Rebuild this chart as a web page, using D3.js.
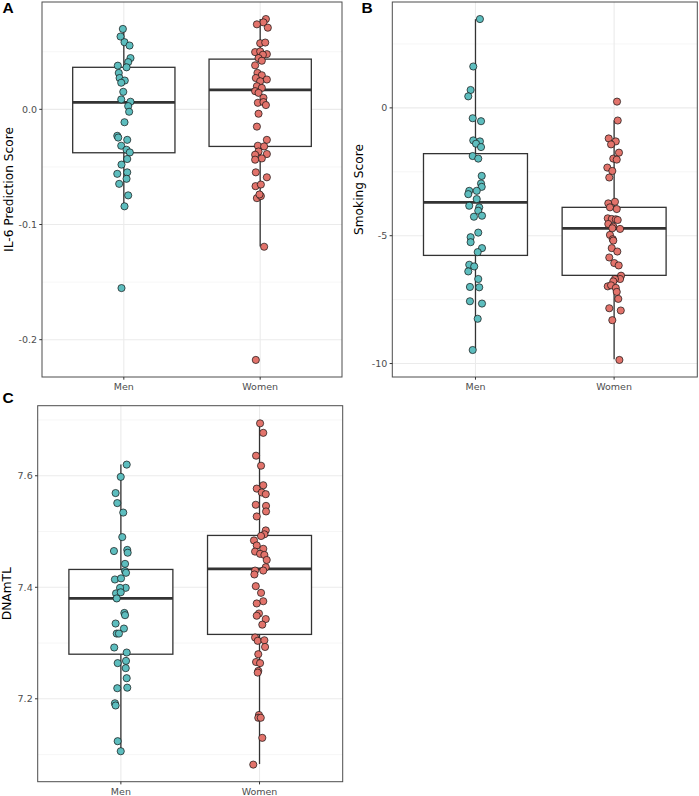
<!DOCTYPE html>
<html>
<head>
<meta charset="utf-8">
<script src="https://cdn.jsdelivr.net/npm/d3@7"></script>
<style>
  html, body { margin: 0; padding: 0; background: #fff; }
  svg { display: block; }
</style>
</head>
<body>
<svg id="chart" width="699" height="796"></svg>
<script>
// ---------------- DATA ----------------
const categories = ["Men", "Women"];

// Panel A: IL-6 Prediction Score
const il6Men = [0.0698,0.0632,0.0583,0.0554,0.0445,0.0410,0.0379,0.0365,0.0316,0.0272,0.0250,0.0231,0.0152,0.0086,0.0066,0.0028,-0.0021,-0.0112,-0.0230,-0.0245,-0.0265,-0.0316,-0.0351,-0.0374,-0.0431,-0.0480,-0.0547,-0.0560,-0.0603,-0.0647,-0.0747,-0.0842,-0.1552];
const il6MenJitter = [-0.007,-0.024,0.005,0.042,0.049,0.032,-0.044,0.020,-0.037,-0.031,0.007,-0.019,-0.004,-0.019,0.049,0.032,0.039,0.005,-0.048,-0.041,0.025,-0.019,0.020,0.044,0.025,-0.017,0.025,-0.048,0.020,-0.034,0.032,0.005,-0.017];
const il6Women = [0.0784,0.0755,0.0738,0.0709,0.0574,0.0580,0.0497,0.0503,0.0479,0.0474,0.0445,0.0422,0.0382,0.0316,0.0296,0.0272,0.0259,0.0244,0.0201,0.0186,0.0158,0.0143,0.0100,0.0057,0.0063,0.0037,-0.0038,-0.0150,-0.0265,-0.0316,-0.0322,-0.0366,-0.0388,-0.0394,-0.0426,-0.0437,-0.0547,-0.0590,-0.0667,-0.0653,-0.0771,-0.0753,-0.0739,-0.1193,-0.2176];
const il6WomenJitter = [0.042,0.024,-0.024,0.056,0,0.037,-0.037,0,0.049,0.020,-0.012,0.012,-0.037,-0.020,0.012,-0.032,0.049,0,-0.024,0.012,-0.037,-0.012,0.024,-0.017,0.024,0.042,-0.012,-0.024,0.049,-0.017,0.029,-0.012,0.049,-0.037,0.012,-0.037,-0.032,0.049,-0.034,0.005,-0.024,0.005,-0.005,0.029,-0.032];
// box stats: [lower whisker, q1, median, q3, upper whisker]
const il6BoxMen = [-0.0842,-0.0377,0.0060,0.0365,0.0698];
const il6BoxWomen = [-0.1190,-0.0322,0.0169,0.0436,0.0784];
const il6Ticks = [-0.2,-0.1,0.0];
const il6Minor = [-0.15,-0.05,0.05];

// Panel B: Smoking Score
const smokMen = [3.475,1.619,0.700,0.451,-0.405,-0.521,-1.272,-1.311,-1.401,-1.533,-1.883,-1.984,-2.661,-2.957,-3.089,-3.245,-3.245,-3.374,-3.568,-3.829,-3.891,-4.023,-4.218,-4.257,-4.879,-5.058,-5.253,-5.486,-5.642,-6.136,-6.202,-6.397,-6.693,-7.004,-7.019,-7.564,-7.654,-8.249,-9.471];
const smokMenJitter = [0.032,-0.016,-0.035,-0.052,-0.020,0.040,-0.016,0.032,0.004,0.040,-0.020,0.020,0.045,0.040,0.045,-0.045,0.009,-0.052,0.009,-0.045,0.027,0.020,0.047,-0.011,0.020,-0.035,-0.035,0.047,0.016,-0.045,-0.009,-0.052,0.020,-0.040,0.027,-0.040,0.047,0.016,-0.020];
const smokWomen = [0.245,-0.494,-1.195,-1.311,-1.428,-1.751,-1.984,-2.023,-2.335,-2.467,-2.724,-3.735,-3.673,-3.891,-3.957,-4.319,-4.346,-4.358,-4.385,-4.541,-4.646,-4.708,-4.735,-4.969,-5.136,-5.191,-5.486,-5.619,-5.852,-6.070,-6.163,-6.564,-6.693,-6.693,-6.786,-6.981,-6.942,-7.043,-7.198,-7.471,-7.837,-7.926,-8.304,-9.860];
const smokWomenJitter = [0.021,0.026,-0.039,0.012,-0.022,0.035,-0.006,0.019,-0.049,-0.013,-0.035,-0.042,0.006,-0.030,0.019,-0.046,-0.017,0.012,0.026,-0.042,-0.006,-0.013,0.043,-0.030,-0.010,-0.006,-0.017,0.023,-0.035,0.001,0.033,0.050,0.043,0.006,-0.006,-0.046,-0.022,0.012,0.019,0.030,-0.035,0.048,-0.013,0.038];
const smokBoxMen = [-9.47,-5.77,-3.70,-1.79,3.47];
const smokBoxWomen = [-9.83,-6.55,-4.71,-3.89,-0.49];
const smokTicks = [-10,-5,0];
const smokMinor = [-7.5,-2.5,2.5];

// Panel C: DNAmTL
const tlMen = [7.620,7.598,7.569,7.551,7.534,7.490,7.465,7.467,7.462,7.442,7.429,7.426,7.414,7.416,7.399,7.399,7.389,7.391,7.380,7.354,7.350,7.335,7.326,7.317,7.317,7.292,7.283,7.268,7.264,7.255,7.237,7.219,7.220,7.192,7.188,7.124,7.106];
const tlMenJitter = [0.042,-0.001,-0.038,-0.026,0.017,0.010,-0.050,0.046,0.049,0.030,0.030,0.037,-0.043,0.001,0.035,-0.006,-0.035,-0.001,-0.030,0.025,0.030,-0.038,0.022,-0.030,-0.014,-0.048,0.042,0.037,-0.023,0.035,0.042,-0.026,0.046,-0.043,-0.038,-0.023,-0.001];
const tlWomen = [7.694,7.677,7.636,7.618,7.583,7.577,7.570,7.567,7.548,7.546,7.527,7.536,7.502,7.495,7.492,7.484,7.475,7.469,7.464,7.460,7.458,7.449,7.436,7.430,7.430,7.423,7.402,7.390,7.375,7.371,7.353,7.349,7.343,7.333,7.310,7.304,7.305,7.293,7.280,7.266,7.264,7.250,7.247,7.171,7.166,7.166,7.130,7.082];
const tlWomenJitter = [0.004,0.027,-0.025,0.011,0.027,-0.020,0.016,0.045,-0.027,0.047,-0.020,0.047,0.045,0.035,0.011,-0.040,-0.020,0.027,-0.032,0.004,0.035,0.052,0.045,0.027,-0.032,-0.037,-0.027,0.011,0.027,-0.020,-0.004,-0.020,0.045,0.020,-0.032,-0.013,0.035,0.040,-0.009,-0.025,0.004,-0.009,-0.013,-0.004,-0.009,0.009,0.020,-0.045];
const tlBoxMen = [7.106,7.280,7.380,7.432,7.620];
const tlBoxWomen = [7.083,7.3155,7.433,7.493,7.695];
const tlTicks = [7.2,7.4,7.6];
const tlMinor = [7.1,7.3,7.5,7.7];

const colors = { Men: "#5DBDBE", Women: "#E2736B" };

// ---------------- DRAW ----------------
const svg = d3.select("#chart");
svg.append("rect").attr("width", 699).attr("height", 796).attr("fill", "#fff");

function drawPanel(cfg) {
  const { left, right, top, bottom } = cfg.box;
  const g = svg.append("g");

  // y domain: data range with 5% expansion (ggplot default)
  const all = cfg.series.flatMap(s => s.values.concat(s.box));
  const lo = d3.min(all), hi = d3.max(all);
  const pad = (hi - lo) * 0.05;
  const y = d3.scaleLinear().domain([lo - pad, hi + pad]).range([bottom, top]);
  const x = d3.scalePoint().domain(categories).range([left, right]).padding(0.6);
  const step = x.step();

  // grid
  g.selectAll(".minor").data(cfg.minor).join("line")
    .attr("x1", left).attr("x2", right)
    .attr("y1", d => y(d)).attr("y2", d => y(d))
    .attr("stroke", "#F0F0F0").attr("stroke-width", 0.6);
  g.selectAll(".major").data(cfg.ticks).join("line")
    .attr("x1", left).attr("x2", right)
    .attr("y1", d => y(d)).attr("y2", d => y(d))
    .attr("stroke", "#EBEBEB").attr("stroke-width", 1.1);
  g.selectAll(".xmajor").data(categories).join("line")
    .attr("x1", d => x(d)).attr("x2", d => x(d))
    .attr("y1", top).attr("y2", bottom)
    .attr("stroke", "#EBEBEB").attr("stroke-width", 1.1);

  // boxplots
  const bw = step * 0.75;
  cfg.series.forEach(s => {
    const cx = x(s.cat);
    const [wl, q1, md, q3, wh] = s.box;
    g.append("line").attr("x1", cx).attr("x2", cx).attr("y1", y(q3)).attr("y2", y(wh))
      .attr("stroke", "#333").attr("stroke-width", 1.3);
    g.append("line").attr("x1", cx).attr("x2", cx).attr("y1", y(q1)).attr("y2", y(wl))
      .attr("stroke", "#333").attr("stroke-width", 1.3);
    g.append("rect").attr("x", cx - bw / 2).attr("width", bw)
      .attr("y", y(q3)).attr("height", y(q1) - y(q3))
      .attr("fill", "#fff").attr("stroke", "#333").attr("stroke-width", 1.3);
    g.append("line").attr("x1", cx - bw / 2).attr("x2", cx + bw / 2)
      .attr("y1", y(md)).attr("y2", y(md))
      .attr("stroke", "#333").attr("stroke-width", 2.8);
  });

  // jittered points
  cfg.series.forEach(s => {
    const pts = s.values.map((v, i) => ({ v, j: s.jitter[i] }));
    g.append("g").selectAll("circle").data(pts).join("circle")
      .attr("cx", d => x(s.cat) + d.j * step)
      .attr("cy", d => y(d.v))
      .attr("r", 3.6)
      .attr("fill", colors[s.cat])
      .attr("stroke", "#111").attr("stroke-width", 0.7);
  });

  // panel border
  g.append("rect").attr("x", left).attr("y", top)
    .attr("width", right - left).attr("height", bottom - top)
    .attr("fill", "none").attr("stroke", "#4d4d4d").attr("stroke-width", 1);

  // y axis ticks & labels
  g.selectAll(".yt").data(cfg.ticks).join("line")
    .attr("x1", left - 2.7).attr("x2", left)
    .attr("y1", d => y(d)).attr("y2", d => y(d))
    .attr("stroke", "#333").attr("stroke-width", 1);
  g.selectAll(".yl").data(cfg.ticks).join("text")
    .attr("x", left - 5).attr("y", d => y(d)).attr("dy", "0.35em")
    .attr("text-anchor", "end")
    .attr("font-family", "DejaVu Sans, sans-serif").attr("font-size", 9.5)
    .attr("fill", "#4D4D4D")
    .text(cfg.fmt);

  // x axis ticks & labels
  g.selectAll(".xt").data(categories).join("line")
    .attr("x1", d => x(d)).attr("x2", d => x(d))
    .attr("y1", bottom).attr("y2", bottom + 2.7)
    .attr("stroke", "#333").attr("stroke-width", 1);
  g.selectAll(".xl").data(categories).join("text")
    .attr("x", d => x(d)).attr("y", bottom + 12.8)
    .attr("text-anchor", "middle")
    .attr("font-family", "DejaVu Sans, sans-serif").attr("font-size", 9.5)
    .attr("fill", "#4D4D4D")
    .text(d => d);

  // y title
  g.append("text")
    .attr("transform", `translate(${cfg.titleX},${(top + bottom) / 2}) rotate(-90)`)
    .attr("dy", "0.35em").attr("text-anchor", "middle")
    .attr("font-family", "DejaVu Sans, sans-serif").attr("font-size", 12.2)
    .attr("fill", "#000")
    .text(cfg.title);

  // panel tag
  g.append("text").attr("x", cfg.tag.x).attr("y", cfg.tag.y)
    .attr("font-family", "Liberation Sans, Arial, sans-serif")
    .attr("font-weight", "bold").attr("font-size", 15.5)
    .attr("fill", "#000").text(cfg.tag.t);
}

drawPanel({
  box: { left: 42, right: 342, top: 2, bottom: 377 },
  series: [
    { cat: "Men", values: il6Men, jitter: il6MenJitter, box: il6BoxMen },
    { cat: "Women", values: il6Women, jitter: il6WomenJitter, box: il6BoxWomen }
  ],
  ticks: il6Ticks, minor: il6Minor, fmt: d => d.toFixed(1),
  title: "IL-6 Prediction Score", titleX: 9.2,
  tag: { t: "A", x: 2.5, y: 12.8 }
});

drawPanel({
  box: { left: 392.3, right: 697.3, top: 2, bottom: 377 },
  series: [
    { cat: "Men", values: smokMen, jitter: smokMenJitter, box: smokBoxMen },
    { cat: "Women", values: smokWomen, jitter: smokWomenJitter, box: smokBoxWomen }
  ],
  ticks: smokTicks, minor: smokMinor, fmt: d => String(d),
  title: "Smoking Score", titleX: 359,
  tag: { t: "B", x: 361.5, y: 12.8 }
});

drawPanel({
  box: { left: 37.7, right: 342.7, top: 405.7, bottom: 781.7 },
  series: [
    { cat: "Men", values: tlMen, jitter: tlMenJitter, box: tlBoxMen },
    { cat: "Women", values: tlWomen, jitter: tlWomenJitter, box: tlBoxWomen }
  ],
  ticks: tlTicks, minor: tlMinor, fmt: d => d.toFixed(1),
  title: "DNAmTL", titleX: 6.5,
  tag: { t: "C", x: 2.5, y: 403.3 }
});
</script>
</body>
</html>
